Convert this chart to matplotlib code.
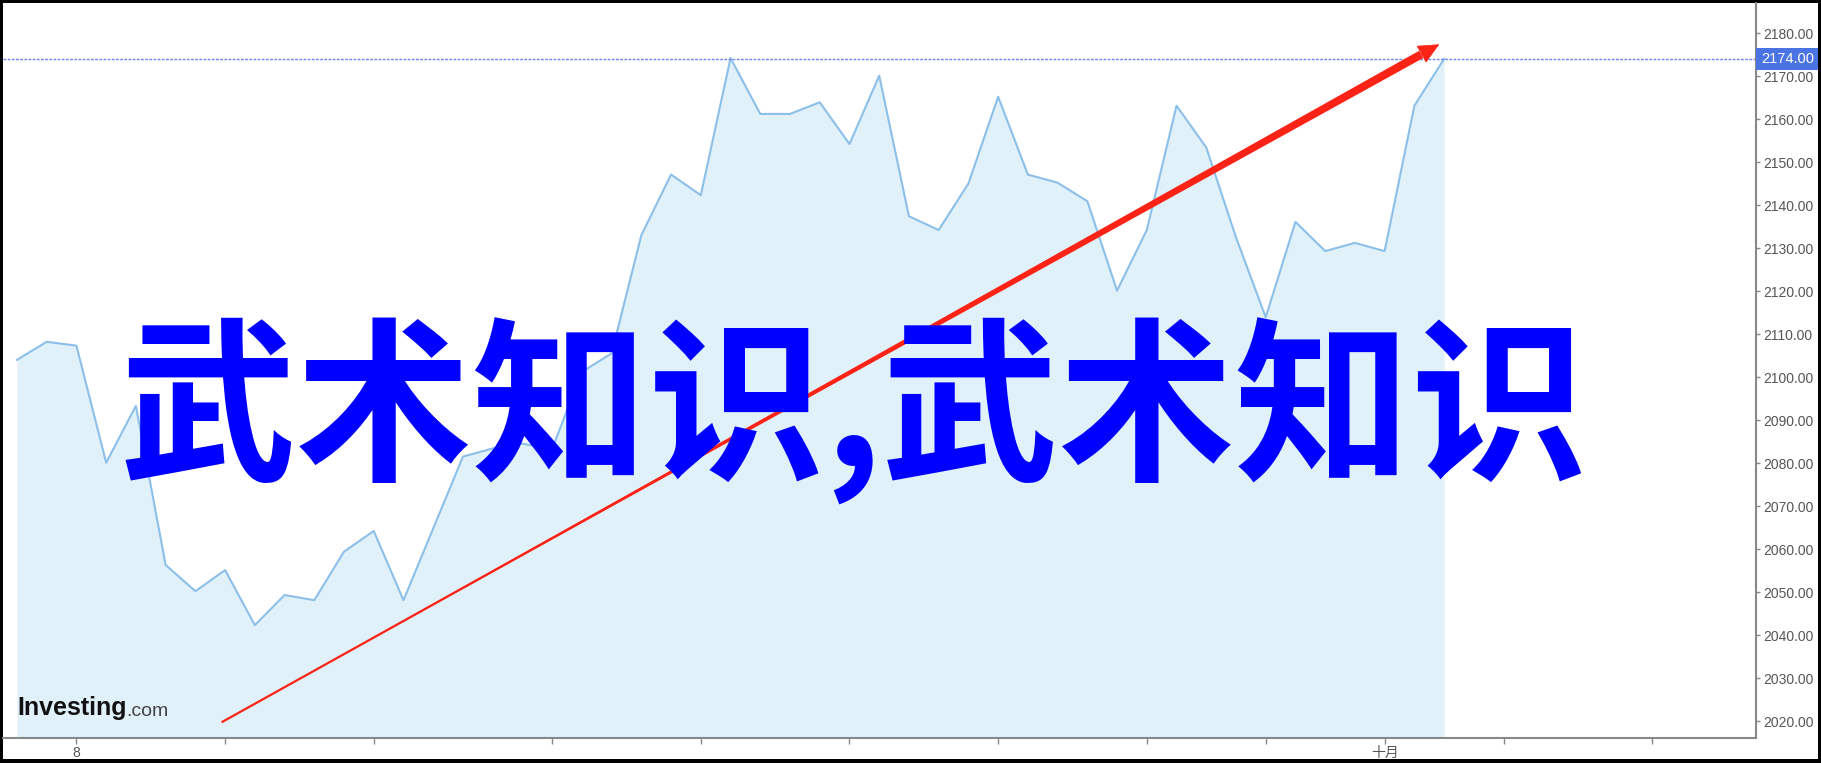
#!/usr/bin/env python3
# investing.com style area chart with a big blue title and a red trend arrow
import matplotlib.pyplot as pl
from matplotlib.patches import Rectangle
import numpy as np

pl.rcParams['font.family'] = ['Liberation Sans', 'Noto Sans CJK SC', 'DejaVu Sans']

# closing prices, one per trading day
prices = [2104.0, 2108.2, 2107.3, 2080.1, 2093.3, 2056.3, 2050.2, 2055.1,
          2042.3, 2049.3, 2048.1, 2059.4, 2064.2, 2048.1, 2064.8, 2081.5,
          2083.4, 2084.5, 2083.3, 2101.2, 2105.5, 2133.0, 2147.1, 2142.3,
          2174.2, 2161.2, 2161.2, 2163.9, 2154.2, 2170.1, 2137.4, 2134.2,
          2145.0, 2165.2, 2147.1, 2145.2, 2140.9, 2120.1, 2134.2, 2163.1,
          2153.4, 2132.5, 2113.9, 2136.1, 2129.3, 2131.2, 2129.3, 2163.1,
          2174.0]
last_price = 2174.0

# x ticks (trading-day index) and their labels
xtick_pos = [2, 7, 12, 18, 23, 28, 33, 38, 42, 46, 50, 55]
xtick_lab = ['8', '', '', '', '', '', '', '', '', '十月', '', '']
ytick_vals = np.arange(2020, 2181, 10)

# trend arrow (index, price)
arrow_start = (6.88, 2019.7)
arrow_tip = (47.84, 2177.4)

title = '武术知识,武术知识'

W, H = 1821, 763
fig = pl.figure(figsize=(W / 100, H / 100), dpi=100)
fig.patch.set_facecolor('black')
fig.add_artist(Rectangle((3 / W, 4 / H), (W - 6) / W, (H - 7) / H,
                         transform=fig.transFigure, facecolor='white',
                         edgecolor='none', zorder=-1))

ax = fig.add_axes([3 / W, 25 / H, (1756 - 3) / W, (763 - 3 - 25) / H])
ax.set_facecolor('white')

x = np.arange(len(prices))
ybot = 2016.05
ax.fill_between(x, prices, ybot, color='#e0f1fa', lw=0)
ax.plot(x, prices, color='#8cbfe9', lw=1.5)
ax.set_xlim(-0.47, 58.49)
ax.set_ylim(ybot, 2187.0)

ax.axhline(last_price, color='#6f86f0', lw=1, ls=(0, (2, 1)))

for s in ['top', 'left']:
    ax.spines[s].set_visible(False)
for s in ['right', 'bottom']:
    ax.spines[s].set_color('#888888')
    ax.spines[s].set_linewidth(1.5)

ax.yaxis.tick_right()
ax.set_yticks(ytick_vals)
ax.set_yticklabels(['%.2f' % v for v in ytick_vals])
ax.set_xticks(xtick_pos)
ax.set_xticklabels(xtick_lab)
ax.tick_params(axis='y', colors='#888888', labelcolor='#555555',
               labelsize=10, length=3, width=1, pad=2)
ax.tick_params(axis='x', colors='#888888', labelcolor='#555555',
               labelsize=10, length=4, width=1, pad=2)

# current price flag
ax.annotate('%.2f' % last_price, xy=(1.0, last_price),
            xycoords=ax.get_yaxis_transform(), xytext=(3.5, 0),
            textcoords='offset points', ha='left', va='center',
            color='white', fontsize=10.5,
            bbox=dict(boxstyle='square,pad=0.3', fc='#4a73e3', ec='none'),
            annotation_clip=False)

# red arrow: thin line, tapered shaft, head
f = 0.015
base = (arrow_tip[0] - f * (arrow_tip[0] - arrow_start[0]),
        arrow_tip[1] - f * (arrow_tip[1] - arrow_start[1]))
ax.plot([arrow_start[0], base[0]], [arrow_start[1], base[1]],
        color='#fa2315', lw=1.6, solid_capstyle='butt')
ax.annotate('', xy=arrow_start, xytext=base,
            arrowprops=dict(arrowstyle='wedge,tail_width=0.6,shrink_factor=0.5',
                            color='#fa2315', lw=0, shrinkA=0, shrinkB=0,
                            mutation_scale=10))
ax.annotate('', xy=arrow_tip, xytext=base,
            arrowprops=dict(arrowstyle='-|>,head_length=1.4,head_width=0.65',
                            color='#fa2315', lw=0.5, shrinkA=0, shrinkB=0,
                            mutation_scale=10))

# big overlay text
fig.text(854 / W, 1 - 412 / H, title, ha='center', va='center',
         color='#0000ff', fontsize=127, fontweight='bold',
         family=['Noto Sans CJK SC', 'DejaVu Sans'])

# logo
t1 = fig.text(17 / W, 1 - 715 / H, 'Investing', ha='left', va='baseline',
              color='#111111', fontsize=18, fontweight='bold')
ax.annotate('.com', xy=(1, 0), xycoords=t1, ha='left', va='bottom',
            color='#444444', fontsize=14)

fig.savefig('out.png', dpi=100, facecolor=fig.get_facecolor())
